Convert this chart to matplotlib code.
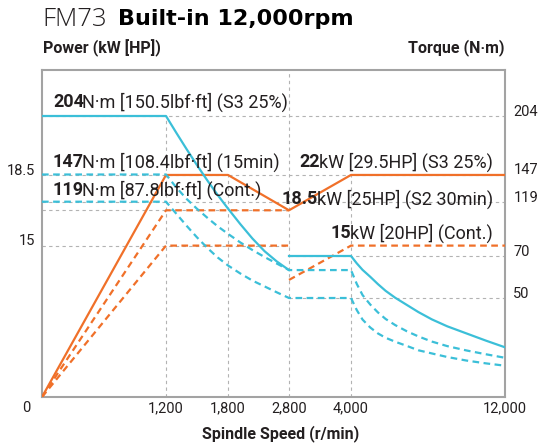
import numpy as np
import matplotlib
matplotlib.use("Agg")
import matplotlib.pyplot as plt

plt.rcParams['font.family'] = ['Roboto', 'DejaVu Sans']

ORANGE = '#f07029'
CYAN = '#3bbfd8'
GRID = '#b3b3b3'
FRAME = '#a3a3a3'
INK = '#231f20'

# spindle speed ticks (r/min)
rpm_ticks = [1200, 1800, 2800, 4000, 12000]
rpm_tick_labels = ['1,200', '1,800', '2,800', '4,000', '12,000']

# power curves (kW)
s3_power_rpm = [0, 1200, 1800, 2800, 4000, 12000]
s3_power_kw = [0, 22, 22, 18.5, 22, 22]
s2_power_rpm = [0, 1200, 2800]
s2_power_kw = [0, 18.5, 18.5]
cont_power_rpm_a = [0, 1200, 2800]
cont_power_kw_a = [0, 15, 15]
cont_power_rpm_b = [2800, 4000, 12000]
cont_power_kw_b = [11.6, 15, 15]

# torque curves (N·m)
torque_rpm_low = [0, 1200, 1300, 1400, 1500, 1600, 1700, 1800,
                  2000, 2200, 2400, 2600, 2800]
torque_rpm_high = [2800, 4000, 4300, 4600, 5000, 5400, 5800, 6300,
                   6900, 7500, 8200, 9000, 10000, 11000, 12000]
s3_torque_low = [204, 204, 187.6, 171.6, 156.1, 140.9, 125.9, 112.8,
                 98.9, 85.8, 74.3, 67.4, 63.3]
s3_torque_high = [70, 70, 66.5, 63.4, 60.1, 56.6, 53.4, 50.1,
                  46.5, 42.9, 39.2, 35.7, 32.1, 28.5, 25.1]
m15_torque_low = [147, 147, 133.6, 121.8, 112.6, 104.5, 96.8, 90.0,
                  82.3, 75.4, 69.5, 66.4, 63.3]
m15_torque_high = [63.3, 63.3, 56.7, 51.4, 46.7, 42.7, 39.4, 36.3,
                   33.2, 30.6, 28.0, 25.7, 23.5, 21.6, 19.8]
cont_torque_low = [119, 119, 108.1, 97.2, 86.8, 77.3, 69.3, 65.5,
                   61.7, 58.3, 55.5, 52.7, 50]
cont_torque_high = [50, 50, 43.9, 39.1, 35.1, 32.1, 29.9, 27.9,
                    25.8, 23.6, 22.0, 20.2, 18.4, 17.0, 15.8]

torque_ticks = [204, 147, 119, 70, 50]
power_ticks = [22, 15]
power_tick_labels = ['18.5', '15']

# the chart is drawn schematically: every tick gets its own spacing
x_knots = [0, 1200, 1800, 2800, 4000, 12000]
x_pos = [0, 124, 186, 247, 309, 463]
t_knots = [0, 50, 70, 119, 147, 204, 260]
t_pos = [0, 99, 141, 195.3, 222.5, 281, 338.5]
T_TOP = 248.8
P_TOP = 32.4


def piecewise(knots, pos):
    fwd = lambda v: np.interp(v, knots, pos)
    inv = lambda v: np.interp(v, pos, knots)
    return fwd, inv


W, H = 542, 446
fig = plt.figure(figsize=(W / 100, H / 100), dpi=100)
ax = fig.add_axes([42 / W, 1 - 397 / H, 463 / W, 327 / H])
ax.set_xscale('function', functions=piecewise(x_knots, x_pos))
ax.set_xlim(0, 12000)
ax.set_ylim(0, P_TOP)
ax2 = ax.twinx()
ax2.set_yscale('function', functions=piecewise(t_knots, t_pos))
ax2.set_ylim(0, T_TOP)

def px(x, y):
    return x / W, 1 - y / H

# guide lines (all on the lower axes so the curves sit above them)
gkw = dict(color=GRID, lw=0.8, dashes=(3, 3), zorder=1)
for r, top in zip([1200, 1800, 2800, 4000], [204, 147, T_TOP, 147]):
    ax.plot([r, r], [0, top], transform=ax2.transData, **gkw)
for t, x0 in zip(torque_ticks, [0, 0, 0, 2800, 2800]):
    ax.plot([x0, 12000], [t, t], transform=ax2.transData, **gkw)
for p in [18.5, 15]:
    ax.plot([0, 2800], [p, p], **gkw)

# power (orange)
dkw = dict(lw=1.6, dashes=(3, 2), solid_capstyle='butt')
ax.plot(s3_power_rpm, s3_power_kw, color=ORANGE, lw=1.6, zorder=3)
ax.plot(s2_power_rpm, s2_power_kw, color=ORANGE, zorder=3, **dkw)
ax.plot(cont_power_rpm_a, cont_power_kw_a, color=ORANGE, zorder=3, **dkw)
ax.plot(cont_power_rpm_b, cont_power_kw_b, color=ORANGE, zorder=3, **dkw)

# torque (cyan)
ax2.plot(torque_rpm_low, s3_torque_low, color=CYAN, lw=1.6, zorder=3)
ax2.plot(torque_rpm_high, s3_torque_high, color=CYAN, lw=1.6, zorder=3)
ax2.plot(torque_rpm_low + torque_rpm_high, m15_torque_low + m15_torque_high,
         color=CYAN, zorder=3, **dkw)
ax2.plot(torque_rpm_low + torque_rpm_high, cont_torque_low + cont_torque_high,
         color=CYAN, zorder=3, **dkw)

for a in (ax, ax2):
    for s in a.spines.values():
        s.set_visible(a is ax)
        s.set_color(FRAME)
        s.set_linewidth(1.5)
    a.set_yticks([])
ax.set_xticks(rpm_ticks, rpm_tick_labels)
ax.tick_params(axis='x', length=0, pad=3, labelsize=10.5, labelcolor=INK)

# axis numbers sit a little above their guide lines
for t in torque_ticks:
    ax2.annotate(str(t), xy=(1, t), xycoords=('axes fraction', 'data'),
                 xytext=(6, 3), textcoords='offset points', ha='left',
                 va='center', fontsize=10.5, color=INK, annotation_clip=False)
for p, lbl in zip(power_ticks, power_tick_labels):
    ax.annotate(lbl, xy=(0, p), xycoords=('axes fraction', 'data'),
                xytext=(-5, 3), textcoords='offset points', ha='right',
                va='center', fontsize=10.5, color=INK, annotation_clip=False)
fig.text(*px(26, 408), '0', ha='center', va='center', fontsize=10.5, color=INK)

fig.text(*px(43, 48), 'Power (kW [HP])', ha='left', va='center',
         fontsize=11.5, fontweight='bold', color=INK)
fig.text(*px(505, 48), 'Torque (N·m)', ha='right', va='center',
         fontsize=11.5, fontweight='bold', color=INK)
fig.text(*px(281, 434), 'Spindle Speed (r/min)', ha='center', va='center',
         fontsize=11.5, fontweight='bold', color=INK)

t1 = fig.text(*px(42, 19), 'FM73', ha='left', va='center', fontsize=18.5,
              family=['Open Sans', 'DejaVu Sans'], fontweight='light', color=INK)
ax2.annotate('Built-in 12,000rpm', xy=(1, 0.5), xycoords=t1, xytext=(8, 0),
             textcoords='offset points', ha='left', va='center', fontsize=16,
             family='DejaVu Sans', fontweight='bold', color='black')


def two_part(x, y, num, rest, right=False):
    kw = dict(fontsize=13, color=INK, va='center', textcoords='offset points')
    if right:
        t = fig.text(*px(x, y), rest, ha='right', fontsize=13, color=INK,
                     va='center')
        ax2.annotate(num, xy=(0, 0.5), xycoords=t, xytext=(0.8, 0), ha='right',
                     fontweight='bold', **kw)
    else:
        t = fig.text(*px(x, y), num, ha='left', fontweight='bold', fontsize=13,
                     color=INK, va='center')
        ax2.annotate(rest, xy=(1, 0.5), xycoords=t, xytext=(-1.2, 0), ha='left',
                     **kw)


two_part(53, 102, '204', 'N·m [150.5lbf·ft] (S3 25%)')
two_part(53, 162, '147', 'N·m [108.4lbf·ft] (15min)')
two_part(53, 190, '119', 'N·m [87.8lbf·ft] (Cont.)')
two_part(493, 162, '22', 'kW [29.5HP] (S3 25%)', right=True)
two_part(493, 199, '18.5', 'kW [25HP] (S2 30min)', right=True)
two_part(493, 233, '15', 'kW [20HP] (Cont.)', right=True)

fig.savefig('out.png', dpi=100)
